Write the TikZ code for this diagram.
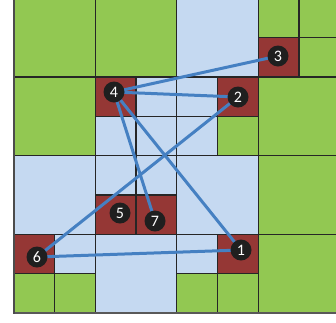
\documentclass[tikz,border=0pt]{standalone}
\usepackage{fontspec}
\setmainfont{Carlito}
\usetikzlibrary{backgrounds}
\definecolor{cgreen}{HTML}{92C852}
\definecolor{cblue}{HTML}{C5D9F1}
\definecolor{cred}{HTML}{953735}
\definecolor{cedge}{HTML}{4580C2}
\definecolor{cgrid}{HTML}{262626}
\pgfdeclarelayer{cells}
\pgfsetlayers{cells,background,main}
\tikzset{
  num/.style={circle,fill=black!88,text=white,inner sep=0pt,minimum size=21pt,font=\fontsize{16}{16}\selectfont},
  link/.style={cedge,line width=3pt},
  gridline/.style={draw=cgrid,line width=1.3pt}
}
\begin{document}
\begin{tikzpicture}[x=1pt,y=-1pt]
\useasboundingbox (0,0) rectangle (336,322);
\node[num] (n1) at (241,250) {1};
\node[num] (n2) at (238,97) {2};
\node[num] (n3) at (278,56) {3};
\node[num] (n4) at (114,92) {4};
\node[num] (n5) at (120,213) {5};
\node[num] (n6) at (37,257) {6};
\node[num] (n7) at (155,221) {7};
\begin{pgfonlayer}{cells}
\fill[white] (0,0) rectangle (336,322);
\begin{scope}
\clip (0,0) rectangle (336,322);
\foreach \c/\r/\w/\h/\col in {
  0/0/2/2/cgreen, 2/0/2/2/cgreen, 0/2/2/2/cgreen,
  2/2/1/1/cred, 3/2/1/1/cblue, 2/3/1/1/cblue, 3/3/1/1/cblue,
  4/0/2/2/cblue, 6/0/1/1/cgreen, 7/0/1/1/cgreen, 6/1/1/1/cred, 7/1/1/1/cgreen,
  4/2/1/1/cblue, 5/2/1/1/cred, 4/3/1/1/cblue, 5/3/1/1/cgreen, 6/2/2/2/cgreen,
  0/4/2/2/cblue, 2/4/1/1/cblue, 3/4/1/1/cblue, 2/5/1/1/cred, 3/5/1/1/cred,
  0/6/1/1/cred, 1/6/1/1/cblue, 0/7/1/1/cgreen, 1/7/1/1/cgreen, 2/6/2/2/cblue,
  4/4/2/2/cblue, 6/4/2/2/cgreen,
  4/6/1/1/cblue, 5/6/1/1/cred, 4/7/1/1/cgreen, 5/7/1/1/cgreen, 6/6/2/2/cgreen}
  \draw[gridline,fill=\col] ({14+40.7*\c},{-1.5+39.3*\r}) rectangle ++({40.7*\w},{39.3*\h});
\end{scope}
\draw[draw=black!65,line width=1.8pt] (13.3,313) -- (336,313);
\draw[draw=black!70,line width=1.8pt] (14,-2) -- (14,313.5);
\end{pgfonlayer}
\begin{pgfonlayer}{background}
\draw[link] (n4.center) -- (n3.center);
\draw[link] (n4.center) -- (n2.center);
\draw[link] (n4.center) -- (n7.center);
\draw[link] (n4.center) -- (n1.center);
\draw[link] (n2.center) -- (n6.center);
\draw[link] (n6.center) -- (n1.center);
\end{pgfonlayer}
\end{tikzpicture}
\end{document}
